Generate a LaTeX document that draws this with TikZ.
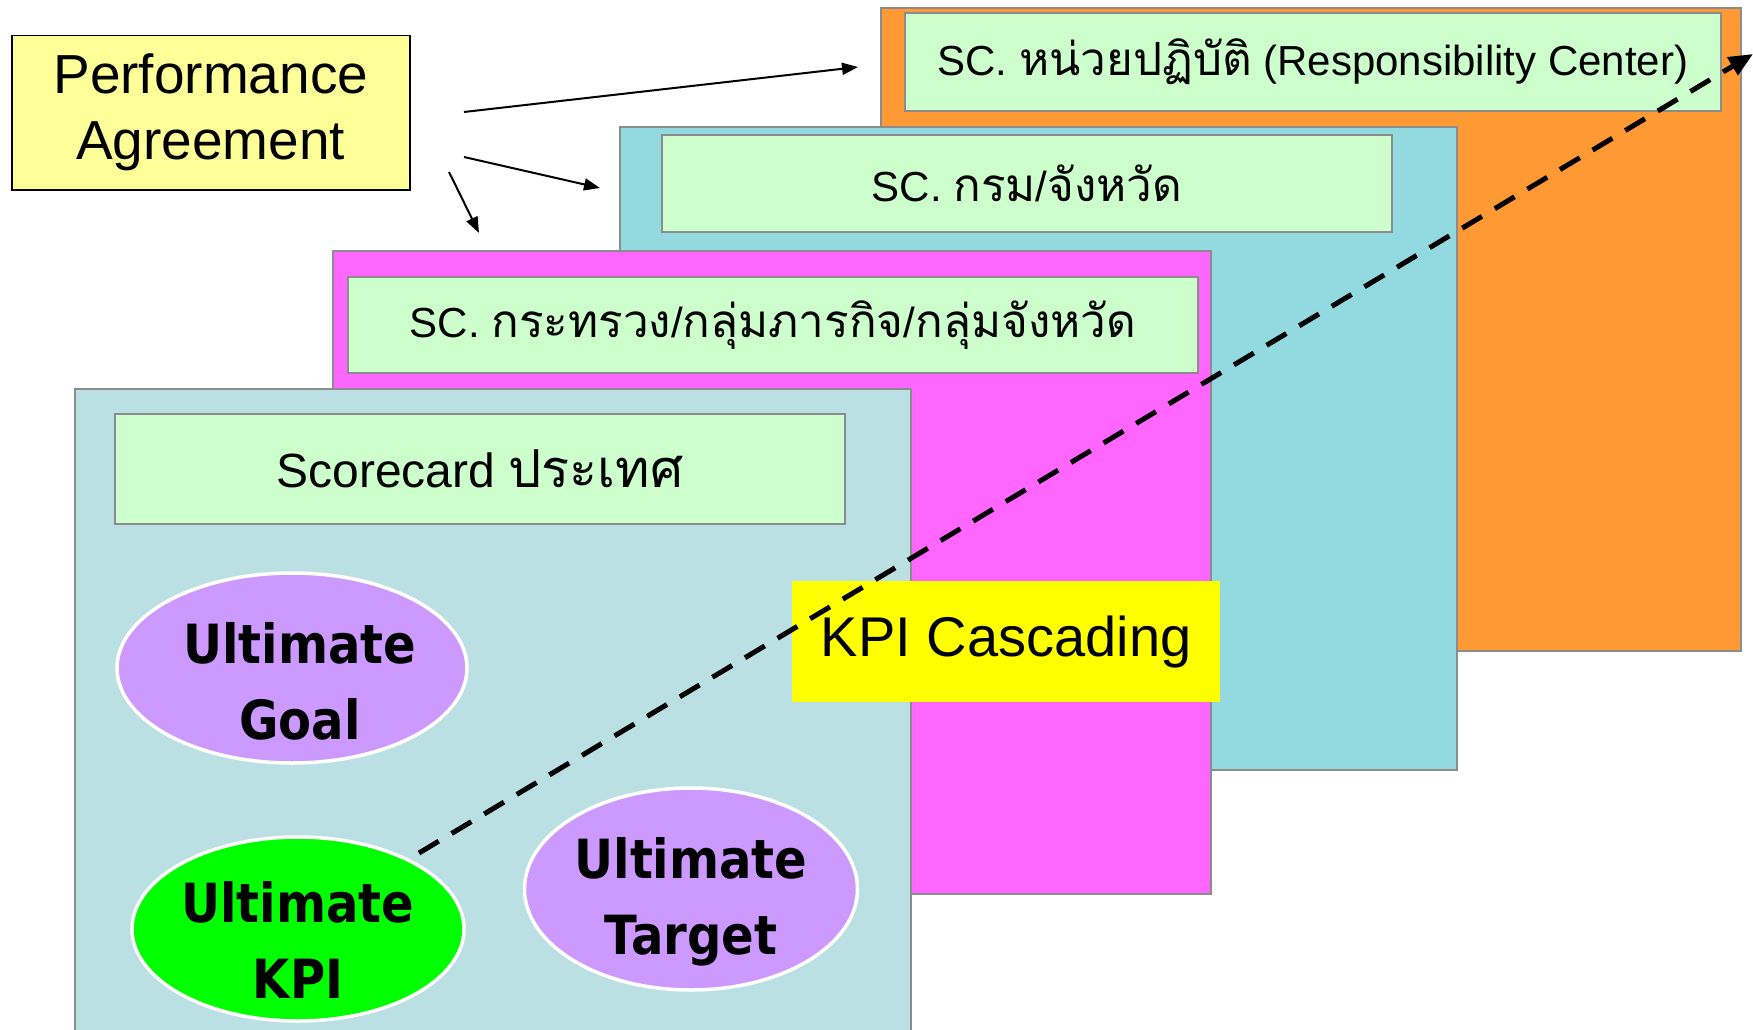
\documentclass[tikz,border=0pt]{standalone}
\usepackage{fontspec}
\setmainfont{Liberation Sans}
\newfontfamily\thaifont[Script=Thai,Scale=1.09]{Loma}
\newfontfamily\ellfont[FakeStretch=0.89]{DejaVu Sans}
\usetikzlibrary{arrows.meta,shapes.geometric}
\definecolor{orangeP}{HTML}{FF9933}
\definecolor{cyanP}{HTML}{93DAE0}
\definecolor{magP}{HTML}{FF66FF}
\definecolor{frontP}{HTML}{BBE0E3}
\definecolor{titleG}{HTML}{CCFFCC}
\definecolor{paY}{HTML}{FFFF99}
\definecolor{ellP}{HTML}{CC99FF}
\definecolor{ellG}{HTML}{00FF00}
\definecolor{kpiY}{HTML}{FFFF00}
\definecolor{borderG}{HTML}{8C8C8C}
\begin{document}
\begin{tikzpicture}[x=1pt,y=-1pt,
  panel/.style={draw=borderG, line width=2pt, anchor=north west, inner sep=0pt},
  titlebox/.style={draw=borderG, line width=2pt, fill=titleG, anchor=north west, inner sep=0pt, font=\fontsize{42}{50}\selectfont},
  ell/.style={ellipse, draw=white, line width=3.5pt, inner sep=0pt},
  elltext/.style={inner sep=0pt, align=center, font=\ellfont\bfseries\fontsize{54}{76}\selectfont},
  paarrow/.style={-{Triangle[length=16pt,width=12pt]}, line width=2pt},
  cascline/.style={line width=5pt, dash pattern=on 23pt off 15pt, -{Triangle[length=24pt,width=20pt]}}
]
\useasboundingbox (0,0) rectangle (1753,1030);
\clip (0,0) rectangle (1753,1030);
\fill[white] (0,0) rectangle (1753,1030);

% orange panel
\node[panel, fill=orangeP, minimum width=860pt, minimum height=643pt] (po) at (880,7) {};
\node[titlebox, minimum width=816pt, minimum height=98pt] (to) at (904,12)
  {SC. {\thaifont หน่วยปฏิบัติ} (Responsibility Center)};

% cyan panel
\node[panel, fill=cyanP, minimum width=837pt, minimum height=643pt] (pc) at (619,126) {};
\node[titlebox, minimum width=730pt, minimum height=97pt] (tc) at (661,134)
  {SC. {\thaifont กรม}/{\thaifont จังหวัด}};

% magenta panel
\node[panel, fill=magP, minimum width=878pt, minimum height=643pt] (pm) at (332,250) {};
\node[titlebox, minimum width=850pt, minimum height=96pt] (tm) at (347,276)
  {SC. {\thaifont กระทรวง}/{\thaifont กลุ่มภารกิจ}/{\thaifont กลุ่มจังหวัด}};

% front panel
\node[panel, fill=frontP, minimum width=836pt, minimum height=660pt] (pf) at (74,388) {};
\node[titlebox, minimum width=730pt, minimum height=110pt, font=\fontsize{48}{56}\selectfont] (tf) at (114,413)
  {Scorecard {\thaifont ประเทศ}};

% ellipses
\node[ell, fill=ellP, minimum width=350pt, minimum height=190pt] (goal) at (292,668) {};
\node[elltext] (goaltxt) at ([xshift=8pt,yshift=-13pt]goal.center) {Ultimate\\Goal};
\node[ell, fill=ellG, minimum width=332pt, minimum height=184pt] (kpi) at (298,929) {};
\node[elltext] (kpitxt) at ([yshift=-11pt]kpi.center) {Ultimate\\KPI};
\node[ell, fill=ellP, minimum width=333pt, minimum height=202pt] (target) at (691,889) {};
\node[elltext] (targettxt) at ([yshift=-13pt]target.center) {Ultimate\\Target};

% KPI cascading label
\node[fill=kpiY, anchor=north west, minimum width=428pt, minimum height=121pt, inner sep=0pt,
  font=\fontsize{56}{64}\selectfont] (casc) at (792,581) {KPI Cascading};

% dashed cascading line
\coordinate (cs) at (419,853);
\coordinate (ce) at (1753,54);
\draw[cascline] (cs) -- (ce);

% performance agreement
\node[draw=black, line width=1.5pt, fill=paY, anchor=north west, minimum width=398pt, minimum height=154pt,
  inner sep=0pt, align=center, font=\fontsize{55}{66}\selectfont] (pa) at (11,35) {Performance\\Agreement};

\coordinate (a1s) at (464,112);
\coordinate (a1e) at (858,67);
\coordinate (a2s) at (464,157);
\coordinate (a2e) at (600,188);
\coordinate (a3s) at (449,172);
\coordinate (a3e) at (479,233);
\draw[paarrow] (a1s) -- (a1e);
\draw[paarrow] (a2s) -- (a2e);
\draw[paarrow] (a3s) -- (a3e);
\end{tikzpicture}
\end{document}
